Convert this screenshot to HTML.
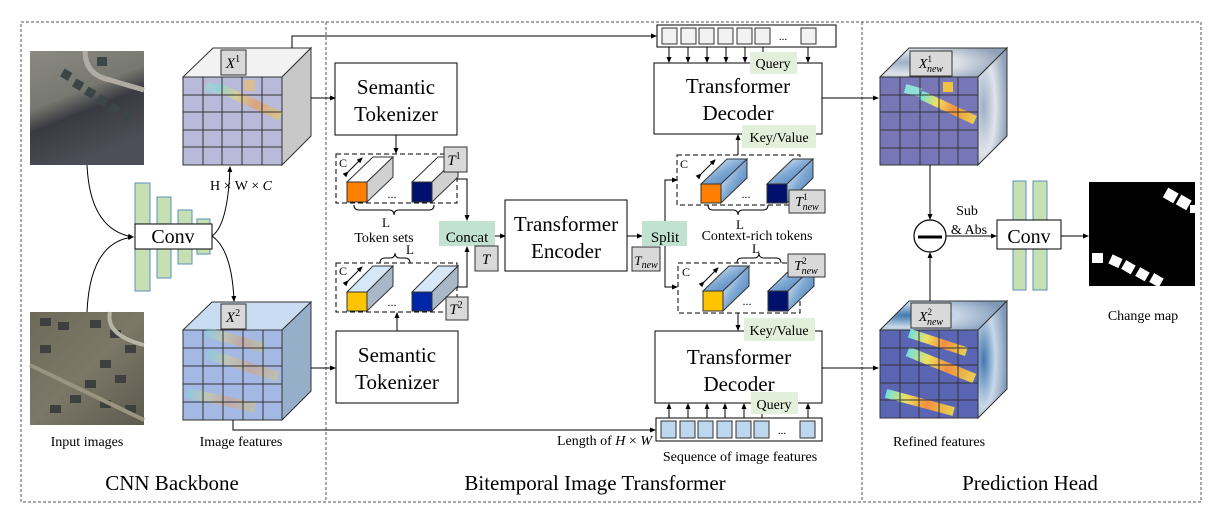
<!DOCTYPE html>
<html><head><meta charset="utf-8"><style>
html,body{margin:0;padding:0;background:#fff}
svg{display:block}
text{font-family:"Liberation Serif",serif;fill:#000}
</style></head><body>
<svg width="1220" height="512" viewBox="0 0 1220 512" xmlns="http://www.w3.org/2000/svg">
<defs>
<marker id="ar" markerWidth="6" markerHeight="6" refX="5" refY="3" orient="auto" markerUnits="userSpaceOnUse"><path d="M0,0.5 L6,3 L0,5.5 z" fill="#000"/></marker>
<linearGradient id="sat1" x1="0" y1="0" x2="0.4" y2="1"><stop offset="0" stop-color="#8a8a82"/><stop offset="0.45" stop-color="#77786f"/><stop offset="0.62" stop-color="#3a3a42"/><stop offset="1" stop-color="#4e4e58"/></linearGradient>
<linearGradient id="sat2" x1="0" y1="0" x2="1" y2="1"><stop offset="0" stop-color="#6e6a58"/><stop offset="0.5" stop-color="#7c7868"/><stop offset="1" stop-color="#5c5a4e"/></linearGradient>
<linearGradient id="blob" x1="0" y1="0" x2="1" y2="0"><stop offset="0" stop-color="#6fe0e0"/><stop offset="0.3" stop-color="#f0e060"/><stop offset="0.6" stop-color="#f09040"/><stop offset="1" stop-color="#e8d050"/></linearGradient>
<radialGradient id="glow1" cx="0.2" cy="0.5" r="0.8"><stop offset="0" stop-color="#9fb0c8"/><stop offset="0.5" stop-color="#dfe4ea"/><stop offset="1" stop-color="#8fa0b8"/></radialGradient>
<radialGradient id="glow2" cx="0.2" cy="0.5" r="0.8"><stop offset="0" stop-color="#3f78b0"/><stop offset="0.5" stop-color="#c9d8e8"/><stop offset="1" stop-color="#7f98b8"/></radialGradient>
<linearGradient id="tokb" x1="0" y1="0" x2="1" y2="1"><stop offset="0" stop-color="#ffffff"/><stop offset="0.5" stop-color="#7fa9d4"/><stop offset="1" stop-color="#3d74b0"/></linearGradient>
</defs>

<rect x="21" y="22" width="1180" height="480" fill="none" stroke="#555" stroke-width="1" stroke-dasharray="3,2"/>
<line x1="326" y1="22" x2="326" y2="502" stroke="#555" stroke-dasharray="3,2"/>
<line x1="862" y1="22" x2="862" y2="502" stroke="#555" stroke-dasharray="3,2"/>

<!-- ===== CNN backbone ===== -->
<rect x="30" y="51" width="114" height="114" fill="url(#sat1)"/>
<path d="M85,51 Q85,75 110,80 L144,90" stroke="#b0aca4" stroke-width="5" fill="none"/>
<g fill="#3c4548">
<rect x="62" y="70" width="9" height="9" transform="rotate(30 66 74)"/>
<rect x="74" y="80" width="9" height="9" transform="rotate(30 78 84)"/>
<rect x="86" y="88" width="9" height="9" transform="rotate(30 90 92)"/>
<rect x="98" y="96" width="9" height="9" transform="rotate(30 102 100)"/>
<rect x="110" y="104" width="9" height="9" transform="rotate(30 114 108)"/>
<rect x="123" y="111" width="9" height="9" transform="rotate(30 127 115)"/>
<rect x="97" y="57" width="10" height="9"/>
</g>
<rect x="30" y="312" width="114" height="113" fill="url(#sat2)"/>
<g fill="#3e4040">
<rect x="40" y="318" width="11" height="8"/><rect x="58" y="322" width="11" height="8"/><rect x="90" y="320" width="11" height="8"/><rect x="110" y="330" width="11" height="8"/><rect x="125" y="345" width="11" height="8"/>
<rect x="40" y="345" width="11" height="8"/><rect x="100" y="360" width="11" height="8"/><rect x="115" y="375" width="11" height="8"/><rect x="85" y="380" width="11" height="8"/><rect x="70" y="395" width="11" height="8"/><rect x="50" y="405" width="11" height="8"/><rect x="100" y="400" width="11" height="8"/><rect x="125" y="405" width="11" height="8"/>
</g>
<path d="M30,365 L144,420" stroke="#9a9480" stroke-width="4"/>
<path d="M110,312 Q105,335 144,345" stroke="#b8b4a6" stroke-width="4" fill="none"/>

<g fill="#c6e0b4" stroke="#5b8fb9" stroke-width="1">
<rect x="135" y="183" width="15" height="108"/>
<rect x="157" y="197" width="14" height="81"/>
<rect x="178" y="210" width="14" height="54"/>
<rect x="197" y="219" width="13" height="35"/>
</g>
<rect x="135" y="224" width="77" height="25" fill="#fff" stroke="#000"/>
<text x="173" y="243" font-size="20" text-anchor="middle">Conv</text>
<path d="M87,165 Q90,230 133,237" fill="none" stroke="#000" marker-end="url(#ar)"/>
<path d="M87,312 Q90,242 133,237" fill="none" stroke="#000" marker-end="url(#ar)"/>
<path d="M212,236 Q228,225 230,167" fill="none" stroke="#000" marker-end="url(#ar)"/>
<path d="M212,236 Q232,250 234,301" fill="none" stroke="#000" marker-end="url(#ar)"/>
<text x="241" y="190" font-size="14" text-anchor="middle">H × W × <tspan font-style="italic">C</tspan></text>

<!-- cube X1 -->
<polygon points="183,77 213,48 311,48 282,77" fill="#f2f2f2" stroke="#333"/>
<polygon points="282,77 311,48 311,136 282,165" fill="#c8c8c8" stroke="#333"/>
<rect x="183" y="77" width="99" height="88" fill="#b9b9d9" stroke="#333"/>
<g opacity="0.55">
<rect x="206" y="84" width="16" height="9" fill="#8fe0d8" transform="rotate(15 214 88)"/>
<rect x="244" y="80" width="11" height="11" fill="#f0c060"/>
<rect x="214" y="97" width="70" height="9" fill="url(#blob)" transform="rotate(25 249 101)"/>
</g>
<g stroke="#333" stroke-width="1">
<line x1="203" y1="77" x2="203" y2="165"/><line x1="222" y1="77" x2="222" y2="165"/><line x1="242" y1="77" x2="242" y2="165"/><line x1="262" y1="77" x2="262" y2="165"/>
<line x1="183" y1="95" x2="282" y2="95"/><line x1="183" y1="112" x2="282" y2="112"/><line x1="183" y1="130" x2="282" y2="130"/><line x1="183" y1="147" x2="282" y2="147"/>
</g>
<rect x="221" y="50" width="25" height="25" fill="#d9d9d9" stroke="#333"/>
<text x="233" y="68" font-size="15" font-style="italic" text-anchor="middle">X<tspan font-style="normal" font-size="10" dy="-6">1</tspan></text>

<!-- cube X2 -->
<polygon points="183,330 212,302 311,302 282,330" fill="#c9dcf2" stroke="#333"/>
<polygon points="282,330 311,302 311,391 282,420" fill="#96aec8" stroke="#333"/>
<rect x="183" y="330" width="99" height="90" fill="#a4b8e4" stroke="#333"/>
<g opacity="0.35">
<rect x="205" y="335" width="60" height="10" fill="url(#blob)" transform="rotate(15 235 340)"/>
<rect x="205" y="360" width="75" height="10" fill="url(#blob)" transform="rotate(18 242 365)"/>
<rect x="186" y="395" width="70" height="10" fill="url(#blob)" transform="rotate(12 220 400)"/>
</g>
<g stroke="#333" stroke-width="1">
<line x1="203" y1="330" x2="203" y2="420"/><line x1="223" y1="330" x2="223" y2="420"/><line x1="243" y1="330" x2="243" y2="420"/><line x1="263" y1="330" x2="263" y2="420"/>
<line x1="183" y1="348" x2="282" y2="348"/><line x1="183" y1="366" x2="282" y2="366"/><line x1="183" y1="384" x2="282" y2="384"/><line x1="183" y1="402" x2="282" y2="402"/>
</g>
<rect x="221" y="304" width="25" height="25" fill="#d9d9d9" stroke="#333"/>
<text x="233" y="322" font-size="15" font-style="italic" text-anchor="middle">X<tspan font-style="normal" font-size="10" dy="-6">2</tspan></text>

<text x="87" y="446" font-size="14" text-anchor="middle">Input images</text>
<text x="241" y="446" font-size="14" text-anchor="middle">Image features</text>
<text x="172" y="490" font-size="21" text-anchor="middle">CNN Backbone</text>

<line x1="311" y1="98" x2="335" y2="98" stroke="#000" marker-end="url(#ar)"/>
<line x1="311" y1="368" x2="335" y2="368" stroke="#000" marker-end="url(#ar)"/>
<polyline points="292,48 292,36 656,36" fill="none" stroke="#000" marker-end="url(#ar)"/>
<polyline points="233,420 233,430 655,430" fill="none" stroke="#000" marker-end="url(#ar)"/>

<!-- ===== Bitemporal Image Transformer ===== -->
<rect x="335" y="63" width="122" height="72" fill="#fff" stroke="#000"/>
<text x="396" y="94" font-size="21" text-anchor="middle">Semantic</text>
<text x="396" y="121" font-size="21" text-anchor="middle">Tokenizer</text>
<rect x="336" y="331" width="122" height="72" fill="#fff" stroke="#000"/>
<text x="397" y="362" font-size="21" text-anchor="middle">Semantic</text>
<text x="397" y="389" font-size="21" text-anchor="middle">Tokenizer</text>
<line x1="396" y1="135" x2="396" y2="153" stroke="#000" marker-end="url(#ar)"/>
<line x1="397" y1="331" x2="397" y2="313" stroke="#000" marker-end="url(#ar)"/>

<rect x="336" y="154" width="121" height="49" fill="none" stroke="#000" stroke-dasharray="5,3"/>
<g stroke="#333">
<polygon points="347,182 373,157 393,157 367,182" fill="#fff"/>
<polygon points="367,182 393,157 393,177 367,202" fill="#d0d0d0"/>
<rect x="347" y="182" width="20" height="20" fill="#ff8000"/>
<polygon points="412,182 438,157 458,157 432,182" fill="#fff"/>
<polygon points="432,182 458,157 458,177 432,202" fill="#d0d0d0"/>
<rect x="412" y="182" width="20" height="20" fill="#00106c"/>
</g>
<text x="392" y="198" font-size="12" text-anchor="middle">...</text>
<text x="339" y="167" font-size="12">C</text>
<line x1="348" y1="172" x2="362" y2="158" stroke="#000" marker-end="url(#ar)" marker-start="url(#ar)"/>
<path d="M354,205 q0,5 5,5 h30 q5,0 5,5 q0,-5 5,-5 h30 q5,0 5,-5" fill="none" stroke="#000"/>
<text x="386" y="227" font-size="13" text-anchor="middle">L</text>
<text x="384" y="242" font-size="14" text-anchor="middle">Token sets</text>
<rect x="444" y="147" width="23" height="25" fill="#d9d9d9" stroke="#333"/>
<text x="454" y="165" font-size="15" font-style="italic" text-anchor="middle">T<tspan font-style="normal" font-size="10" dy="-6">1</tspan></text>

<rect x="336" y="263" width="121" height="49" fill="none" stroke="#000" stroke-dasharray="5,3"/>
<g stroke="#333">
<polygon points="347,292 373,266 393,266 367,292" fill="#d6e8f8"/>
<polygon points="367,292 393,266 393,286 367,311" fill="#a9b8c8"/>
<rect x="347" y="292" width="20" height="19" fill="#ffc400"/>
<polygon points="412,292 438,266 458,266 432,292" fill="#d6e8f8"/>
<polygon points="432,292 458,266 458,286 432,311" fill="#a9b8c8"/>
<rect x="412" y="292" width="20" height="19" fill="#0026a8"/>
</g>
<text x="392" y="306" font-size="12" text-anchor="middle">...</text>
<text x="339" y="275" font-size="12">C</text>
<line x1="348" y1="281" x2="362" y2="267" stroke="#000" marker-end="url(#ar)" marker-start="url(#ar)"/>
<path d="M380,263 q0,-5 5,-5 h5 q5,0 5,-5 q0,5 5,5 h5 q5,0 5,5" fill="none" stroke="#000"/>
<text x="410" y="254" font-size="13" text-anchor="middle">L</text>
<rect x="446" y="297" width="22" height="23" fill="#d9d9d9" stroke="#333"/>
<text x="456" y="314" font-size="15" font-style="italic" text-anchor="middle">T<tspan font-style="normal" font-size="10" dy="-6">2</tspan></text>

<polyline points="457,179 467,179 467,220" fill="none" stroke="#000" marker-end="url(#ar)"/>
<polyline points="457,287 467,287 467,247" fill="none" stroke="#000" marker-end="url(#ar)"/>
<rect x="439" y="221" width="56" height="25" fill="#c1e1d1"/>
<text x="467" y="242" font-size="15" text-anchor="middle">Concat</text>
<rect x="475" y="246" width="23" height="25" fill="#d9d9d9" stroke="#333"/>
<text x="486" y="264" font-size="15" font-style="italic" text-anchor="middle">T</text>
<line x1="495" y1="236" x2="505" y2="236" stroke="#000" marker-end="url(#ar)"/>

<rect x="505" y="200" width="122" height="71" fill="#fff" stroke="#000"/>
<text x="566" y="231" font-size="21" text-anchor="middle">Transformer</text>
<text x="566" y="258" font-size="21" text-anchor="middle">Encoder</text>
<line x1="627" y1="236" x2="642" y2="236" stroke="#000" marker-end="url(#ar)"/>

<rect x="642" y="221" width="45" height="25" fill="#c1e1d1"/>
<text x="665" y="242" font-size="15" text-anchor="middle">Split</text>
<rect x="632" y="247" width="28" height="24" fill="#d9d9d9" stroke="#333"/>
<text x="646" y="265" font-size="13" font-style="italic" text-anchor="middle">T<tspan font-size="10" dy="3">new</tspan></text>
<polyline points="665,221 665,180 677,180" fill="none" stroke="#000" marker-end="url(#ar)"/>
<polyline points="665,246 665,287 677,287" fill="none" stroke="#000" marker-end="url(#ar)"/>

<rect x="677" y="155" width="123" height="50" fill="none" stroke="#000" stroke-dasharray="5,3"/>
<g stroke="#333">
<polygon points="701,184 727,159 747,159 721,184" fill="url(#tokb)"/>
<polygon points="721,184 747,159 747,178 721,203" fill="url(#tokb)"/>
<rect x="701" y="184" width="20" height="19" fill="#ff8000"/>
<polygon points="767,184 793,159 813,159 787,184" fill="url(#tokb)"/>
<polygon points="787,184 813,159 813,178 787,203" fill="url(#tokb)"/>
<rect x="767" y="184" width="20" height="19" fill="#00106c"/>
</g>
<text x="746" y="198" font-size="12" text-anchor="middle">...</text>
<text x="680" y="168" font-size="12">C</text>
<line x1="701" y1="174" x2="715" y2="160" stroke="#000" marker-end="url(#ar)" marker-start="url(#ar)"/>
<path d="M708,205 q0,5 5,5 h20 q5,0 5,5 q0,-5 5,-5 h20 q5,0 5,-5" fill="none" stroke="#000"/>
<rect x="789" y="190" width="36" height="23" fill="#d9d9d9" stroke="#333"/>
<text x="807" y="206" font-size="14" font-style="italic" text-anchor="middle">T<tspan font-size="9" dy="-6" font-style="normal">1</tspan><tspan font-size="10" dx="-5" dy="10">new</tspan></text>
<text x="740" y="229" font-size="13" text-anchor="middle">L</text>
<text x="757" y="240" font-size="14" text-anchor="middle">Context-rich tokens</text>

<rect x="678" y="263" width="122" height="50" fill="none" stroke="#000" stroke-dasharray="5,3"/>
<g stroke="#333">
<polygon points="703,291 729,266 749,266 723,291" fill="url(#tokb)"/>
<polygon points="723,291 749,266 749,286 723,311" fill="url(#tokb)"/>
<rect x="703" y="291" width="20" height="20" fill="#ffc400"/>
<polygon points="768,291 794,266 814,266 788,291" fill="url(#tokb)"/>
<polygon points="788,291 814,266 814,286 788,311" fill="url(#tokb)"/>
<rect x="768" y="291" width="20" height="20" fill="#00106c"/>
</g>
<text x="747" y="305" font-size="12" text-anchor="middle">...</text>
<text x="682" y="276" font-size="12">C</text>
<line x1="704" y1="282" x2="718" y2="268" stroke="#000" marker-end="url(#ar)" marker-start="url(#ar)"/>
<path d="M737,263 q0,-5 5,-5 h12 q5,0 5,-5 q0,5 5,5 h12 q5,0 5,5" fill="none" stroke="#000"/>
<text x="756" y="253" font-size="13" text-anchor="middle">L</text>
<rect x="788" y="254" width="37" height="23" fill="#d9d9d9" stroke="#333"/>
<text x="806" y="270" font-size="14" font-style="italic" text-anchor="middle">T<tspan font-size="9" dy="-6" font-style="normal">2</tspan><tspan font-size="10" dx="-5" dy="10">new</tspan></text>

<rect x="654" y="63" width="168" height="71" fill="#fff" stroke="#000"/>
<text x="738" y="93" font-size="21" text-anchor="middle">Transformer</text>
<text x="738" y="120" font-size="21" text-anchor="middle">Decoder</text>
<rect x="655" y="331" width="167" height="72" fill="#fff" stroke="#000"/>
<text x="739" y="364" font-size="21" text-anchor="middle">Transformer</text>
<text x="739" y="391" font-size="21" text-anchor="middle">Decoder</text>
<line x1="738" y1="155" x2="738" y2="135" stroke="#000" marker-end="url(#ar)"/>
<line x1="738" y1="313" x2="738" y2="330" stroke="#000" marker-end="url(#ar)"/>
<rect x="742" y="125" width="74" height="23" fill="#e2efda"/>
<text x="779" y="142" font-size="14" text-anchor="middle">Key/Value</text>
<rect x="744" y="318" width="71" height="23" fill="#e2efda"/>
<text x="779" y="335" font-size="14" text-anchor="middle">Key/Value</text>

<rect x="657" y="25" width="179" height="22" fill="#fff" stroke="#000"/>
<g fill="#f2f2f2" stroke="#333">
<rect x="662" y="28" width="15" height="16"/><rect x="681" y="28" width="15" height="16"/><rect x="699" y="28" width="15" height="16"/><rect x="718" y="28" width="15" height="16"/><rect x="737" y="28" width="15" height="16"/><rect x="755" y="28" width="15" height="16"/><rect x="801" y="28" width="15" height="16"/>
</g>
<text x="783" y="40" font-size="11" text-anchor="middle">...</text>
<g stroke="#000" marker-end="url(#ar)">
<line x1="669" y1="47" x2="669" y2="62"/><line x1="688" y1="47" x2="688" y2="62"/><line x1="707" y1="47" x2="707" y2="62"/><line x1="726" y1="47" x2="726" y2="62"/><line x1="745" y1="47" x2="745" y2="62"/><line x1="763" y1="47" x2="763" y2="62"/><line x1="808" y1="47" x2="808" y2="62"/>
</g>
<rect x="750" y="52" width="47" height="22" fill="#e2efda"/>
<text x="773" y="68" font-size="14" text-anchor="middle">Query</text>

<rect x="656" y="418" width="166" height="23" fill="#fff" stroke="#000"/>
<g fill="#bdd7ee" stroke="#333">
<rect x="661" y="421" width="15" height="17"/><rect x="680" y="421" width="15" height="17"/><rect x="698" y="421" width="15" height="17"/><rect x="717" y="421" width="15" height="17"/><rect x="736" y="421" width="15" height="17"/><rect x="754" y="421" width="15" height="17"/><rect x="800" y="421" width="15" height="17"/>
</g>
<text x="782" y="434" font-size="11" text-anchor="middle">...</text>
<g stroke="#000" marker-end="url(#ar)">
<line x1="669" y1="418" x2="669" y2="404"/><line x1="688" y1="418" x2="688" y2="404"/><line x1="707" y1="418" x2="707" y2="404"/><line x1="725" y1="418" x2="725" y2="404"/><line x1="744" y1="418" x2="744" y2="404"/><line x1="762" y1="418" x2="762" y2="404"/><line x1="808" y1="418" x2="808" y2="404"/>
</g>
<rect x="751" y="392" width="47" height="22" fill="#e2efda"/>
<text x="774" y="409" font-size="14" text-anchor="middle">Query</text>
<text x="652" y="445" font-size="14" text-anchor="end">Length of <tspan font-style="italic">H</tspan> × <tspan font-style="italic">W</tspan></text>
<text x="740" y="461" font-size="14" text-anchor="middle">Sequence of image features</text>
<text x="595" y="490" font-size="21" text-anchor="middle">Bitemporal Image Transformer</text>

<line x1="822" y1="98" x2="878" y2="98" stroke="#000" marker-end="url(#ar)"/>
<line x1="822" y1="368" x2="878" y2="368" stroke="#000" marker-end="url(#ar)"/>

<!-- ===== Prediction head ===== -->
<polygon points="880,77 909,48 1007,48 978,77" fill="url(#glow1)" stroke="#333"/>
<polygon points="978,77 1007,48 1007,136 978,165" fill="url(#glow1)" stroke="#333"/>
<rect x="880" y="77" width="98" height="88" fill="#7777b8" stroke="#333"/>
<rect x="905" y="86" width="16" height="9" fill="#8fe0d8" transform="rotate(15 913 90)"/>
<rect x="943" y="82" width="10" height="10" fill="#f0c040"/>
<rect x="918" y="103" width="60" height="9" fill="url(#blob)" transform="rotate(25 948 107)"/>
<g stroke="#333">
<line x1="900" y1="77" x2="900" y2="165"/><line x1="920" y1="77" x2="920" y2="165"/><line x1="939" y1="77" x2="939" y2="165"/><line x1="958" y1="77" x2="958" y2="165"/>
<line x1="880" y1="95" x2="978" y2="95"/><line x1="880" y1="112" x2="978" y2="112"/><line x1="880" y1="130" x2="978" y2="130"/><line x1="880" y1="148" x2="978" y2="148"/>
</g>
<rect x="910" y="51" width="42" height="25" fill="#d9d9d9" stroke="#333"/>
<text x="931" y="68" font-size="14" font-style="italic" text-anchor="middle">X<tspan font-size="9" dy="-6" font-style="normal">1</tspan><tspan font-size="10" dx="-5" dy="10">new</tspan></text>

<polygon points="880,330 909,301 1007,301 978,330" fill="url(#glow2)" stroke="#333"/>
<polygon points="978,330 1007,301 1007,389 978,418" fill="url(#glow2)" stroke="#333"/>
<rect x="880" y="330" width="98" height="88" fill="#5a66b4" stroke="#333"/>
<rect x="908" y="338" width="60" height="9" fill="url(#blob)" transform="rotate(18 938 342)"/>
<rect x="905" y="360" width="72" height="10" fill="url(#blob)" transform="rotate(22 941 365)"/>
<rect x="885" y="398" width="70" height="9" fill="url(#blob)" transform="rotate(15 920 402)"/>
<g stroke="#333">
<line x1="900" y1="330" x2="900" y2="418"/><line x1="919" y1="330" x2="919" y2="418"/><line x1="939" y1="330" x2="939" y2="418"/><line x1="958" y1="330" x2="958" y2="418"/>
<line x1="880" y1="348" x2="978" y2="348"/><line x1="880" y1="365" x2="978" y2="365"/><line x1="880" y1="383" x2="978" y2="383"/><line x1="880" y1="400" x2="978" y2="400"/>
</g>
<rect x="911" y="303" width="40" height="25" fill="#d9d9d9" stroke="#333"/>
<text x="931" y="321" font-size="14" font-style="italic" text-anchor="middle">X<tspan font-size="9" dy="-6" font-style="normal">2</tspan><tspan font-size="10" dx="-5" dy="10">new</tspan></text>

<line x1="930" y1="165" x2="930" y2="219" stroke="#000" marker-end="url(#ar)"/>
<line x1="930" y1="301" x2="930" y2="253" stroke="#000" marker-end="url(#ar)"/>
<circle cx="930" cy="236" r="16" fill="#fff" stroke="#000" stroke-width="1.2"/>
<line x1="918" y1="237" x2="942" y2="237" stroke="#000" stroke-width="3"/>
<text x="967" y="215" font-size="14" text-anchor="middle">Sub</text>
<text x="969" y="234" font-size="14" text-anchor="middle">&amp; Abs</text>
<line x1="946" y1="236" x2="996" y2="236" stroke="#000" marker-end="url(#ar)"/>
<g fill="#c6e0b4" stroke="#5b8fb9">
<rect x="1013" y="181" width="13" height="109"/><rect x="1033" y="181" width="14" height="109"/>
</g>
<rect x="997" y="220" width="64" height="29" fill="#fff" stroke="#000"/>
<text x="1029" y="243" font-size="20" text-anchor="middle">Conv</text>
<line x1="1061" y1="236" x2="1088" y2="236" stroke="#000" marker-end="url(#ar)"/>
<rect x="1089" y="182" width="106" height="104" fill="#000"/>
<g fill="#fff">
<rect x="1165" y="190" width="12" height="11" transform="rotate(30 1171 195)"/>
<rect x="1178" y="197" width="12" height="11" transform="rotate(30 1184 202)"/>
<rect x="1092" y="253" width="11" height="10"/>
<rect x="1110" y="256" width="11" height="10" transform="rotate(25 1115 261)"/>
<rect x="1123" y="262" width="11" height="10" transform="rotate(30 1128 267)"/>
<rect x="1137" y="269" width="11" height="10" transform="rotate(30 1142 274)"/>
<rect x="1151" y="275" width="11" height="10" transform="rotate(30 1156 280)"/>
<rect x="1190" y="205" width="5" height="8"/>
</g>
<text x="1143" y="320" font-size="14" text-anchor="middle">Change map</text>
<text x="939" y="446" font-size="14" text-anchor="middle">Refined features</text>
<text x="1030" y="490" font-size="21" text-anchor="middle">Prediction Head</text>
</svg>
</body></html>
